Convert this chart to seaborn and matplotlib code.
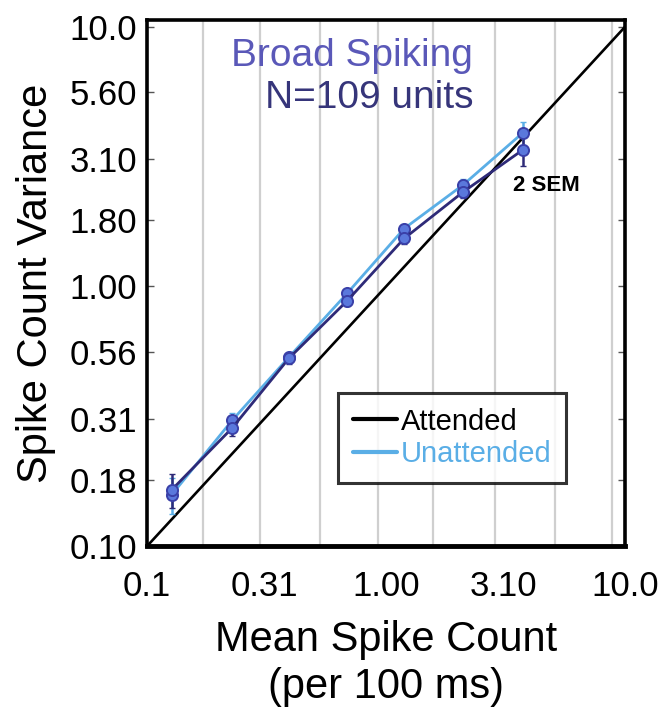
import matplotlib

matplotlib.use("Agg")
import matplotlib.pyplot as plt
import pandas as pd
import seaborn as sns
from matplotlib.lines import Line2D

# values (log-log axes)
mean_count = [0.127, 0.227, 0.393, 0.687, 1.19, 2.10, 3.74]
var_attended = [0.165, 0.285, 0.53, 0.88, 1.53, 2.31, 3.36]
var_unattended = [0.158, 0.305, 0.535, 0.94, 1.67, 2.46, 3.91]
sem_attended = [0.025, 0.02, 0.025, 0.04, 0.07, 0.12, 0.45]
sem_unattended = [0.025, 0.02, 0.025, 0.04, 0.07, 0.12, 0.40]

y_ticks = [0.10, 0.18, 0.31, 0.56, 1.00, 1.80, 3.10, 5.60, 10.0]
y_ticklabels = ["0.10", "0.18", "0.31", "0.56", "1.00", "1.80", "3.10", "5.60", "10.0"]
x_ticks = [0.1, 0.31, 1.0, 3.1, 10.0]
x_ticklabels = ["0.1", "0.31", "1.00", "3.10", "10.0"]
x_grid = [0.171, 0.297, 0.529, 0.926, 1.57, 2.86, 5.09, 8.83]

ATT_COLOR = "#2e2a78"
UNATT_COLOR = "#5aaee6"
MARKER_FACE = "#5a78dc"
MARKER_EDGE = "#3a40a8"

sns.set_theme(style="white")
plt.rcParams["font.family"] = ["Liberation Sans", "DejaVu Sans"]
plt.rcParams["text.color"] = "black"
plt.rcParams["axes.labelcolor"] = "black"
plt.rcParams["xtick.color"] = "black"
plt.rcParams["ytick.color"] = "black"

df = pd.concat(
    [
        pd.DataFrame({"mean": mean_count, "var": var_unattended, "cond": "Unattended"}),
        pd.DataFrame({"mean": mean_count, "var": var_attended, "cond": "Attended"}),
    ],
    ignore_index=True,
)

fig = plt.figure(figsize=(6.68, 7.15), dpi=100)
ax = fig.add_axes([0.220, 0.236, 0.716, 0.736])

for g in x_grid:
    ax.axvline(g, color="#cfcfcf", lw=1.6, zorder=0)

# unity line
ax.plot([0.1, 10.0], [0.1, 10.0], color="black", lw=1.9, zorder=1)

ax.errorbar(mean_count, var_unattended, yerr=sem_unattended, fmt="none",
            ecolor=UNATT_COLOR, elinewidth=1.8, capsize=2.5, zorder=2)
ax.errorbar(mean_count, var_attended, yerr=sem_attended, fmt="none",
            ecolor=ATT_COLOR, elinewidth=1.8, capsize=2.5, zorder=2)

sns.lineplot(
    data=df,
    x="mean",
    y="var",
    hue="cond",
    hue_order=["Unattended", "Attended"],
    palette={"Attended": ATT_COLOR, "Unattended": UNATT_COLOR},
    sort=False,
    marker="o",
    markersize=8,
    markerfacecolor=MARKER_FACE,
    markeredgecolor=MARKER_EDGE,
    markeredgewidth=1.4,
    lw=2.0,
    legend=False,
    ax=ax,
    zorder=3,
)

ax.set_xscale("log")
ax.set_yscale("log")
ax.set_xlim(0.1, 10.0)
ax.set_ylim(0.1, 10.6)

ax.set_yticks(y_ticks)
ax.set_yticklabels(y_ticklabels, fontsize=25)
ax.set_xticks(x_ticks)
ax.set_xticklabels(x_ticklabels, fontsize=25)
ax.minorticks_off()
ax.tick_params(axis="y", which="major", direction="in", length=5, width=1,
               left=True, right=True, pad=7, color="#555555")
ax.tick_params(axis="x", which="major", length=0, pad=17)

for side in ["left", "right", "top", "bottom"]:
    ax.spines[side].set_color("black")
    ax.spines[side].set_linewidth(2.6)
ax.spines["bottom"].set_linewidth(3.5)

ax.set_ylabel("Spike Count Variance", fontsize=30, labelpad=10)
ax.set_xlabel("Mean Spike Count\n(per 100 ms)", fontsize=30, labelpad=12,
              linespacing=1.25)

ax.text(0.682, 0.932, "Broad Spiking", transform=ax.transAxes, ha="right",
        va="center", fontsize=28, color="#5a58b8")
ax.text(0.682, 0.851, "N=109 units", transform=ax.transAxes, ha="right",
        va="center", fontsize=28, color="#36357a")
ax.text(0.766, 0.686, "2 SEM", transform=ax.transAxes, ha="left",
        va="center", fontsize=16, fontweight="bold", color="black")

handles = [
    Line2D([], [], color="black", lw=3),
    Line2D([], [], color=UNATT_COLOR, lw=3),
]
leg = ax.legend(
    handles,
    ["Attended", "Unattended"],
    loc="upper left",
    bbox_to_anchor=(0.40, 0.291),
    fontsize=21,
    frameon=True,
    fancybox=False,
    handlelength=1.5,
    handletextpad=0.15,
    borderpad=0.5,
    labelspacing=0.15,
    borderaxespad=0,
)
leg.get_frame().set_edgecolor("black")
leg.get_frame().set_linewidth(2.2)
leg.get_texts()[0].set_color("black")
leg.get_texts()[1].set_color(UNATT_COLOR)

fig.savefig("out.png", dpi=100)
